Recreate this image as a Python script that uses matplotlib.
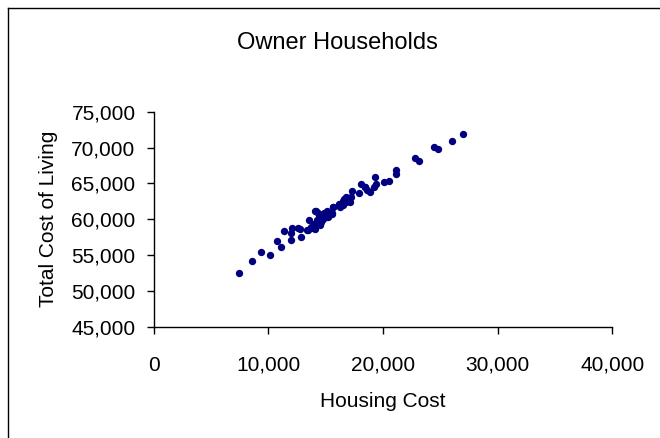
import matplotlib
matplotlib.use('Agg')
import matplotlib.pyplot as plt
from matplotlib.lines import Line2D
from matplotlib.ticker import FuncFormatter

# housing cost vs total cost of living, owner households
housing_cost = [7413, 8551, 9358, 10166, 10790, 11120, 11377, 12001, 12001, 12038,
                12588, 12882, 12735, 13505, 13579, 14056, 13946, 14203, 14423, 14570,
                14056, 13762, 14313, 14864, 15084, 15524, 15598, 16149, 16259, 16406,
                16626, 16773, 16993, 17213, 17287, 17140, 16516, 17874, 18094, 18388,
                18608, 18901, 19268, 19378, 19195, 20075, 20552, 21103, 21177, 22755,
                23122, 24406, 24773, 25984, 26975, 14500, 14800, 15000, 14300, 13900,
                15200, 16500, 16800, 17000, 16200, 15613, 15530, 14135, 13410, 18404]
total_cost = [52442, 54163, 55372, 55047, 56907, 56070, 58302, 57093, 58023, 58767,
              58767, 57465, 58674, 58488, 59884, 61186, 59326, 59884, 60349, 59651,
              58581, 58953, 60814, 60907, 61186, 60814, 61744, 62116, 61744, 62302,
              62767, 63139, 62767, 63139, 63977, 62442, 61977, 63604, 64907, 64442,
              64070, 63837, 65837, 64860, 64442, 65233, 65325, 66860, 66302, 68488,
              68070, 70116, 69744, 70907, 71837, 59200, 60000, 60500, 59500, 58800,
              60300, 62500, 62400, 62700, 62000, 61660, 60690, 61190, 58490, 64535]

plt.rcParams['font.family'] = ['Liberation Sans', 'DejaVu Sans']

fig = plt.figure(figsize=(6.6, 4.38), dpi=100)
ax = fig.add_axes([0.2327, 0.2541, 0.6952, 0.4909])

ax.scatter(housing_cost, total_cost, s=28, color='#000080', zorder=3, linewidths=0)

ax.set_xlim(0, 40000)
ax.set_ylim(45000, 75000)
ax.set_xticks(range(0, 40001, 10000))
ax.set_yticks(range(45000, 75001, 5000))
fmt = FuncFormatter(lambda v, p: '{:,.0f}'.format(v))
ax.xaxis.set_major_formatter(fmt)
ax.yaxis.set_major_formatter(fmt)

for s in ['top', 'right']:
    ax.spines[s].set_visible(False)
for s in ['left', 'bottom']:
    ax.spines[s].set_linewidth(1.0)
    ax.spines[s].set_color('black')

ax.tick_params(axis='both', direction='out', length=5, width=1.0, labelsize=15)
ax.tick_params(axis='y', pad=8)
ax.tick_params(axis='x', pad=16)

ax.set_xlabel('Housing Cost', fontsize=15)
ax.xaxis.label.set_va('center')
ax.xaxis.set_label_coords(0.5, -0.35)
ax.set_ylabel('Total Cost of Living', fontsize=15)
ax.yaxis.label.set_va('center')
ax.yaxis.set_label_coords(-0.228, 0.5)

fig.text(337 / 660, 1 - 43 / 438, 'Owner Households', fontsize=17,
         ha='center', va='center')

# chart area border (left and top visible)
fig.add_artist(Line2D([0.0115, 0.0115], [0.0, 0.9817], color='black', lw=1.0))
fig.add_artist(Line2D([0.0115, 1.0], [0.9817, 0.9817], color='black', lw=1.0))

fig.savefig('out.png', dpi=100)
